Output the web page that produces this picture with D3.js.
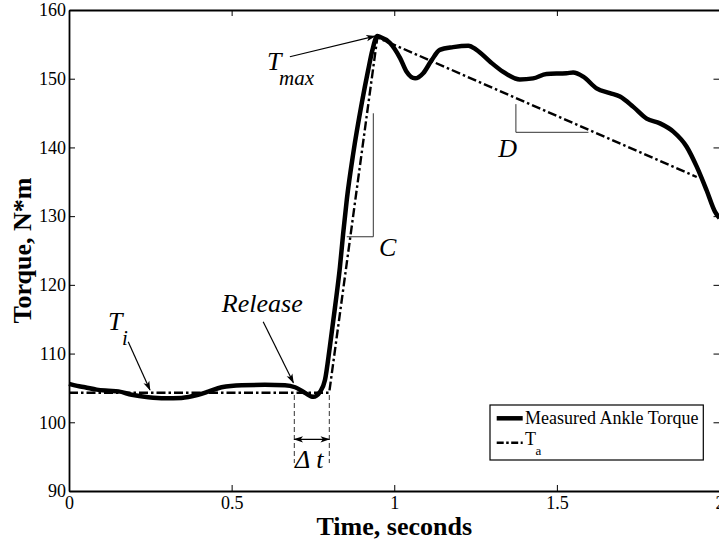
<!DOCTYPE html>
<meta charset="utf-8">
<script src="https://d3js.org/d3.v7.min.js"></script>
<style type="text/css">
body { margin: 0; background: #fff; }
svg { font-family: "Liberation Serif", "Times New Roman", serif; }
.axis text { font-size: 18px; fill: #000; font-family: "Liberation Serif", "Times New Roman", serif; }
.axis line { stroke: #000; stroke-width: 1px; }
.axis path { stroke: #000; stroke-width: 1.8px; }
.note { font-style: italic; font-size: 26px; fill: #000; }
.noteLine { stroke: #000; stroke-width: 1.2px; fill: none; }
.bracket { stroke: #333; stroke-width: 1px; fill: none; }
</style>
<body></body>
<script>

// measured ankle torque
var timeS = [0, 0.025, 0.049, 0.085, 0.121, 0.152, 0.193, 0.244, 0.295, 0.346, 0.397, 0.428,
  0.469, 0.531, 0.602, 0.664, 0.695, 0.725, 0.751, 0.772, 0.787, 0.802, 0.818, 0.833, 0.843,
  0.854, 0.874, 0.900, 0.920, 0.933, 0.948, 0.956, 0.987, 1.018, 1.038, 1.064, 1.089, 1.115,
  1.140, 1.181, 1.228, 1.253, 1.294, 1.335, 1.386, 1.427, 1.468, 1.530, 1.550, 1.581, 1.622,
  1.663, 1.694, 1.735, 1.776, 1.817, 1.858, 1.899, 1.930, 1.960, 1.986, 2.0];
var torqueNm = [105.6, 105.3, 105.1, 104.75, 104.6, 104.5, 104.0, 103.65, 103.5, 103.55, 104.0, 104.45,
  105.1, 105.4, 105.45, 105.4, 105.1, 104.3, 103.7, 104.45, 106.15, 111.0, 116.8, 122.6, 127.5,
  132.35, 139.15, 146.4, 151.3, 154.2, 156.2, 156.1, 155.2, 153.0, 151.0, 150.05, 150.8, 152.7,
  154.2, 154.6, 154.8, 154.2, 152.5, 151.0, 149.9, 150.05, 150.7, 150.8, 150.9, 150.3, 148.6,
  147.9, 147.4, 145.9, 144.2, 143.5, 142.3, 140.1, 137.2, 133.8, 130.65, 129.7];

// approximated torque T_a
var taTime = [0, 0.80, 0.948, 1.93];
var taTorque = [104.3, 104.3, 156.0, 135.7];

var xTicks = [0, 0.5, 1, 1.5, 2];
var yTicks = [90, 100, 110, 120, 130, 140, 150, 160];

var measured = timeS.map(function(t, i) { return {t: t, v: torqueNm[i]}; });
var approx = taTime.map(function(t, i) { return {t: t, v: taTorque[i]}; });

var margin = {top: 10, right: 0, bottom: 50, left: 69};
var width = 650.5, height = 481;

var svg = d3.select("body").append("svg")
    .attr("width", 719)
    .attr("height", 541);

var defs = svg.append("defs");
defs.append("marker")
    .attr("id", "head")
    .attr("viewBox", "0 -5 12 10")
    .attr("refX", 11).attr("refY", 0)
    .attr("markerWidth", 10).attr("markerHeight", 8)
    .attr("markerUnits", "userSpaceOnUse")
    .attr("orient", "auto-start-reverse")
  .append("path")
    .attr("d", "M0,-4L12,0L0,4L3,0Z")
    .attr("fill", "#000");

var g = svg.append("g")
    .attr("transform", "translate(" + margin.left + "," + margin.top + ")");

// scales
var xScale = d3.scaleLinear().domain([0, 2]).range([0, width]);
var yScale = d3.scaleLinear().domain([90, 160]).range([height, 0]);

// axes, ticks pointing inward on all four sides
g.append("g").attr("class", "x axis")
    .attr("transform", "translate(0," + height + ")")
    .call(d3.axisBottom(xScale).tickValues(xTicks).tickFormat(d3.format("")).tickSizeInner(-6).tickSizeOuter(0).tickPadding(5));
g.append("g").attr("class", "x axis")
    .call(d3.axisTop(xScale).tickValues(xTicks).tickFormat("").tickSizeInner(-6).tickSizeOuter(0));
g.append("g").attr("class", "y axis")
    .call(d3.axisLeft(yScale).tickValues(yTicks).tickSizeInner(-6).tickSizeOuter(0).tickPadding(3));
g.append("g").attr("class", "y axis")
    .attr("transform", "translate(" + width + ",0)")
    .call(d3.axisRight(yScale).tickValues(yTicks).tickFormat("").tickSizeInner(-6).tickSizeOuter(0));

g.selectAll(".axis").attr("font-family", null).attr("font-size", null);

// lines
var line = d3.line()
    .x(function(d) { return xScale(d.t); })
    .y(function(d) { return yScale(d.v); });

g.append("path")
    .datum(approx)
    .attr("fill", "none")
    .attr("stroke", "#000")
    .attr("stroke-width", 2.4)
    .attr("stroke-dasharray", "9,3,2.5,3")
    .attr("d", line);

g.append("path")
    .datum(measured)
    .attr("fill", "none")
    .attr("stroke", "#000")
    .attr("stroke-width", 4.5)
    .attr("stroke-linejoin", "round")
    .attr("d", line.curve(d3.curveMonotoneX));

// annotations (data coordinates)
function arrow(t1, v1, t2, v2, both) {
  var l = g.append("line").attr("class", "noteLine")
    .attr("x1", xScale(t1)).attr("y1", yScale(v1))
    .attr("x2", xScale(t2)).attr("y2", yScale(v2))
    .attr("marker-end", "url(#head)");
  if (both) l.attr("marker-start", "url(#head)");
}
function label(t, v, main, sub, subT, subV, size) {
  g.append("text").attr("class", "note")
    .attr("x", xScale(t)).attr("y", yScale(v)).text(main);
  if (sub) {
    g.append("text").attr("class", "note")
      .style("font-size", size + "px")
      .attr("x", xScale(subT)).attr("y", yScale(subV)).text(sub);
  }
}

// T_max
label(0.609, 151.27, "T", "max", 0.646, 149.1, 21);
arrow(0.679, 153.2, 0.941, 156.2);

// T_i
label(0.120, 113.43, "T", "i", 0.163, 111.25, 21);
arrow(0.182, 111.73, 0.249, 104.7);

// Release
label(0.470, 116.12, "Release");
arrow(0.597, 114.64, 0.690, 105.76);

// delta t
[0.6927, 0.8003].forEach(function(t) {
  g.append("line").attr("class", "bracket")
    .attr("stroke-dasharray", "5,3")
    .attr("x1", xScale(t)).attr("x2", xScale(t))
    .attr("y1", yScale(103.97)).attr("y2", yScale(94.07));
});
arrow(0.6927, 97.52, 0.8003, 97.52, true);
label(0.695, 93.35, "\u0394 t");

// C bracket
g.append("path").attr("class", "bracket")
    .attr("d", "M" + xScale(0.9356) + "," + yScale(144.97) +
               "V" + yScale(127.0) + "H" + xScale(0.854));
label(0.953, 124.2, "C");

// D bracket
g.append("path").attr("class", "bracket")
    .attr("d", "M" + xScale(1.374) + "," + yScale(146.3) +
               "V" + yScale(142.2) + "H" + xScale(1.597));
label(1.32, 138.6, "D");

// axis titles
svg.append("text")
    .attr("x", margin.left + width / 2)
    .attr("y", 535)
    .attr("text-anchor", "middle")
    .style("font-weight", "bold")
    .style("font-size", "26px")
    .text("Time, seconds");

svg.append("text")
    .attr("transform", "translate(31," + (margin.top + height / 2) + ") rotate(-90)")
    .attr("text-anchor", "middle")
    .style("font-weight", "bold")
    .style("font-size", "26px")
    .text("Torque, N*m");

// legend
var legend = g.append("g")
    .attr("transform", "translate(" + (width - 229.5) + "," + (height - 86) + ")");
legend.append("rect")
    .attr("width", 213.3).attr("height", 55)
    .attr("fill", "#fff").attr("stroke", "#000").attr("stroke-width", 1.2);
legend.append("line")
    .attr("x1", 6.7).attr("x2", 32.7).attr("y1", 13.3).attr("y2", 13.3)
    .attr("stroke", "#000").attr("stroke-width", 4.5);
legend.append("text")
    .attr("x", 35).attr("y", 19)
    .style("font-size", "18px")
    .text("Measured Ankle Torque");
legend.append("line")
    .attr("x1", 6.7).attr("x2", 32.7).attr("y1", 37.7).attr("y2", 37.7)
    .attr("stroke", "#000").attr("stroke-width", 2.4)
    .attr("stroke-dasharray", "7,2.5,2.5,2.5");
legend.append("text")
    .attr("x", 35).attr("y", 40)
    .style("font-size", "18px")
    .text("T");
legend.append("text")
    .attr("x", 45.5).attr("y", 50)
    .style("font-size", "13px")
    .text("a");

</script>
